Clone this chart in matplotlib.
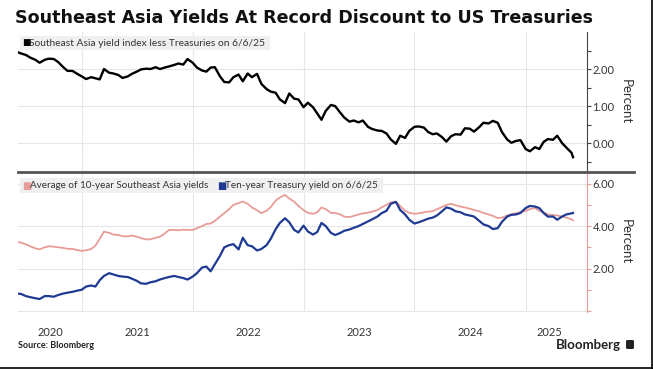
import pandas as pd
import matplotlib
matplotlib.use("Agg")
import matplotlib.pyplot as plt
from matplotlib.ticker import FixedLocator, FormatStrFormatter, NullFormatter
from matplotlib.lines import Line2D
from matplotlib.patches import FancyBboxPatch

plt.rcParams["font.family"] = ["Lato", "DejaVu Sans"]

# semi-monthly readings, 6/5/2020 .. 6/6/2025
dates = ([pd.Timestamp("2020-06-05")]
         + list(pd.date_range("2020-06-15", "2025-06-01", freq="SMS"))
         + [pd.Timestamp("2025-06-06")])

spread = [2.45,
          2.42, 2.38, 2.31, 2.25, 2.17, 2.25, 2.28, 2.27, 2.19, 2.05,
          1.95, 1.95, 1.88, 1.80, 1.73, 1.78, 1.75, 1.72, 2.00, 1.90,
          1.88, 1.84, 1.76, 1.80, 1.87, 1.93, 1.99, 2.01, 2.00, 2.05,
          2.00, 2.04, 2.07, 2.11, 2.15, 2.12, 2.27, 2.17, 2.04, 1.96,
          1.93, 2.04, 2.05, 1.80, 1.65, 1.64, 1.78, 1.85, 1.67, 1.88,
          1.78, 1.87, 1.60, 1.46, 1.39, 1.36, 1.18, 1.08, 1.34, 1.20,
          1.18, 0.97, 1.09, 0.97, 0.80, 0.63, 0.87, 1.03, 1.00, 0.83,
          0.69, 0.58, 0.61, 0.56, 0.61, 0.44, 0.38, 0.34, 0.33, 0.26,
          0.10, -0.02, 0.20, 0.14, 0.33, 0.44, 0.45, 0.42, 0.30, 0.24,
          0.26, 0.16, 0.04, 0.19, 0.24, 0.23, 0.40, 0.39, 0.31, 0.43,
          0.55, 0.53, 0.60, 0.55, 0.30, 0.10, 0.01, 0.06, 0.08, -0.16,
          -0.22, -0.11, -0.16, 0.03, 0.11, 0.09, 0.20, 0.00, -0.12, -0.26,
          -0.38]

sea_avg = [3.25,
           3.22, 3.14, 3.05, 2.95, 2.90, 3.00, 3.05, 3.03, 3.00, 2.97,
           2.93, 2.92, 2.88, 2.83, 2.86, 2.92, 3.08, 3.40, 3.74, 3.68,
           3.60, 3.58, 3.52, 3.52, 3.55, 3.50, 3.43, 3.37, 3.38, 3.45,
           3.50, 3.65, 3.82, 3.82, 3.80, 3.83, 3.82, 3.82, 3.90, 4.00,
           4.10, 4.12, 4.25, 4.45, 4.61, 4.80, 5.00, 5.08, 5.16, 5.05,
           4.88, 4.75, 4.61, 4.72, 4.90, 5.20, 5.35, 5.47, 5.30, 5.15,
           4.95, 4.75, 4.63, 4.58, 4.65, 4.88, 4.80, 4.62, 4.62, 4.55,
           4.45, 4.42, 4.48, 4.55, 4.60, 4.63, 4.68, 4.76, 4.88, 5.00,
           5.12, 5.15, 4.95, 4.72, 4.63, 4.58, 4.60, 4.65, 4.68, 4.70,
           4.80, 4.90, 5.00, 5.05, 4.98, 4.92, 4.88, 4.82, 4.76, 4.70,
           4.62, 4.55, 4.48, 4.38, 4.40, 4.50, 4.56, 4.61, 4.66, 4.72,
           4.80, 4.85, 4.72, 4.65, 4.55, 4.52, 4.50, 4.45, 4.40, 4.32,
           4.27]

ust10 = [0.82,
         0.80, 0.70, 0.65, 0.60, 0.56, 0.70, 0.70, 0.67, 0.75, 0.82,
         0.86, 0.90, 0.95, 1.00, 1.15, 1.20, 1.15, 1.45, 1.65, 1.78,
         1.72, 1.65, 1.62, 1.60, 1.52, 1.42, 1.30, 1.28, 1.35, 1.40,
         1.48, 1.55, 1.60, 1.65, 1.60, 1.55, 1.48, 1.62, 1.78, 2.05,
         2.09, 1.87, 2.20, 2.60, 3.00, 3.10, 3.15, 2.90, 3.45, 3.10,
         3.05, 2.85, 2.92, 3.10, 3.40, 3.85, 4.15, 4.37, 4.18, 3.82,
         3.70, 4.02, 3.75, 3.60, 3.72, 4.15, 4.00, 3.68, 3.58, 3.67,
         3.78, 3.84, 3.92, 4.00, 4.10, 4.22, 4.32, 4.45, 4.61, 4.72,
         5.05, 5.14, 4.76, 4.55, 4.30, 4.12, 4.18, 4.27, 4.35, 4.40,
         4.50, 4.70, 4.88, 4.82, 4.70, 4.65, 4.55, 4.50, 4.45, 4.25,
         4.08, 4.00, 3.86, 3.90, 4.20, 4.45, 4.53, 4.55, 4.62, 4.85,
         4.95, 4.92, 4.85, 4.62, 4.45, 4.45, 4.30, 4.45, 4.55, 4.60,
         4.62]

years = [2020, 2021, 2022, 2023, 2024, 2025]
title = "Southeast Asia Yields At Record Discount to US Treasuries"
top_label = "Southeast Asia yield index less Treasuries on 6/6/25"
pink_label = "Average of 10-year Southeast Asia yields"
blue_label = "Ten-year Treasury yield on 6/6/25"

df = pd.DataFrame({"date": dates, "spread": spread, "sea": sea_avg, "ust": ust10})

PINK = "#e89c98"
BLUE = "#1f3a93"
GRID = "#e6e6e6"
TXT = "#333333"

fig = plt.figure(figsize=(6.53, 3.69), dpi=100)
W, H = 653, 369


def px(x0, y0, x1, y1):
    return [x0 / W, 1 - y1 / H, (x1 - x0) / W, (y1 - y0) / H]


ax1 = fig.add_axes(px(18, 32, 587, 172))
ax2 = fig.add_axes(px(18, 172, 587, 312))

x0 = df["date"].iloc[0]
x1 = df["date"].iloc[-1] + pd.Timedelta(days=46)

ax1.plot(df["date"], df["spread"], color="black", lw=1.7)
ax2.plot(df["date"], df["sea"], color=PINK, lw=1.3)
ax2.plot(df["date"], df["ust"], color=BLUE, lw=1.6)

ax1.set_ylim(-0.78, 3.0)
ax2.set_ylim(-0.05, 6.55)

year_starts = [pd.Timestamp(f"{y}-01-01") for y in years[1:]]

for ax in (ax1, ax2):
    ax.set_xlim(x0, x1)
    for s in ("left", "top", "bottom"):
        ax.spines[s].set_visible(False)
    ax.yaxis.tick_right()
    ax.yaxis.set_label_position("right")
    ax.yaxis.set_major_formatter(FormatStrFormatter("%.2f"))
    ax.tick_params(axis="y", which="both", direction="out", length=3,
                   width=0.8, labelsize=8, labelcolor=TXT, pad=1)
    ax.tick_params(axis="x", which="both", length=0)
    ax.set_xticks(year_starts)
    ax.xaxis.set_major_formatter(NullFormatter())
    ax.grid(axis="x", color=GRID, lw=0.8)
    ax.set_axisbelow(True)
    ax.set_ylabel("Percent", rotation=270, fontsize=9.5, color=TXT, labelpad=12)

ax1.yaxis.set_major_locator(FixedLocator([0, 1, 2]))
ax1.yaxis.set_minor_locator(FixedLocator([-0.5, 0.5, 1.5, 2.5]))
ax1.grid(axis="y", which="major", color=GRID, lw=0.8)
ax1.spines["right"].set_color("#444444")
ax1.tick_params(axis="y", which="both", color="#444444")
ax1.tick_params(axis="x", which="both", labelbottom=False)

ax2.yaxis.set_major_locator(FixedLocator([2, 4, 6]))
ax2.yaxis.set_minor_locator(FixedLocator([0, 1, 3, 5]))
for v in (0, 2, 4, 6):
    ax2.axhline(v, color=GRID, lw=0.8, zorder=0)
ax2.spines["right"].set_color(PINK)
ax2.tick_params(axis="y", which="both", color=PINK)

# year labels in the middle of each visible year
mids = []
for y in years:
    a = max(pd.Timestamp(f"{y}-01-01"), x0)
    b = min(pd.Timestamp(f"{y + 1}-01-01"), df["date"].iloc[-1])
    mids.append(a + (b - a) / 2)
ax2.set_xticks(mids, minor=True)
ax2.set_xticklabels([str(y) for y in years], minor=True)
ax2.tick_params(axis="x", which="minor", labelsize=8, labelcolor=TXT, pad=11)

# separator between panels
fig.add_artist(Line2D([18 / W, 634 / W], [1 - 172 / H] * 2, color="#555555", lw=2))

# legend boxes
fig.add_artist(FancyBboxPatch((20 / W, 1 - 50 / H), 250 / W, 14 / H,
                              boxstyle="square,pad=0", fc="#f0f0f0", ec="none"))
fig.text(22 / W, 1 - 43 / H, "\u25A0", fontsize=6.5, color="black", va="center",
         family=["DejaVu Sans"])
fig.text(29 / W, 1 - 43 / H, top_label, fontsize=7.4, color=TXT, va="center")

fig.add_artist(FancyBboxPatch((20 / W, 1 - 193 / H), 363 / W, 15 / H,
                              boxstyle="square,pad=0", fc="#f0f0f0", ec="none"))
fig.text(22 / W, 1 - 185.5 / H, "\u25A0", fontsize=7, color=PINK, va="center",
         family=["DejaVu Sans"])
fig.text(30 / W, 1 - 185.5 / H, pink_label, fontsize=7.1, color=TXT, va="center")
fig.text(217 / W, 1 - 185.5 / H, "\u25A0", fontsize=7, color=BLUE, va="center",
         family=["DejaVu Sans"])
fig.text(225 / W, 1 - 185.5 / H, blue_label, fontsize=7.2, color=TXT, va="center")

fig.text(15 / W, 1 - 18 / H, title, fontsize=12.6, fontweight="bold",
         color="#111111", va="center", family=["DejaVu Sans"])
fig.text(18 / W, 1 - 346 / H, "Source: Bloomberg", fontsize=6.5,
         fontweight="bold", color="#222222", va="center")
fig.text(621 / W, 1 - 345 / H, "Bloomberg", fontsize=9.5, fontweight="bold",
         color="#222222", va="center", ha="right")
fig.add_artist(FancyBboxPatch((626 / W, 1 - 349 / H), 8 / W, 9 / H,
                              boxstyle="round,pad=0,rounding_size=0.003",
                              fc="#222222", ec="none"))

# outer frame on right and bottom
fig.add_artist(Line2D([1 - 1 / W, 1 - 1 / W], [0, 1], color="black", lw=1.2))
fig.add_artist(Line2D([0, 1], [1 / H, 1 / H], color="black", lw=1.2))

fig.savefig("out.png", dpi=100)
